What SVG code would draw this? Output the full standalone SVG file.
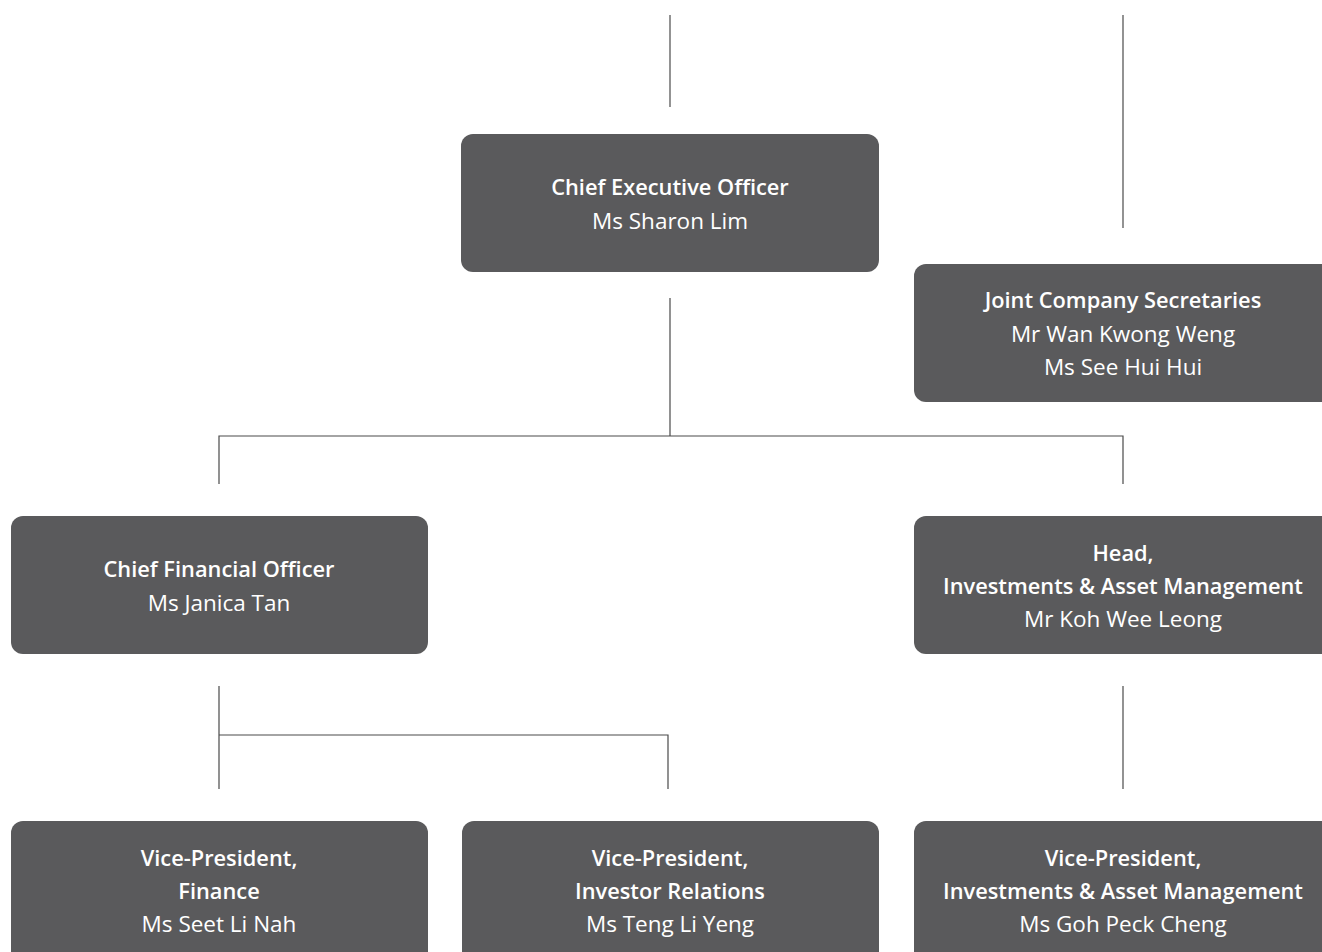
<svg xmlns="http://www.w3.org/2000/svg" width="1322" height="952" viewBox="0 0 1322 952">
<style>
.box{fill:#5a5a5c}
.t{font-family:"Open Sans","Liberation Sans",sans-serif;font-size:22.5px;fill:#ffffff;text-anchor:middle}
.b{font-weight:600;font-size:21.8px}
.c{stroke:#4a4a4a;stroke-width:1.2;fill:none}
</style>
<rect width="1322" height="952" fill="#ffffff"/>
<g id="connectors">
<path class="c" d="M670 15V107"/>
<path class="c" d="M1123 15V228"/>
<path class="c" d="M670 298V436M219 484V436H1123V484"/>
<path class="c" d="M219 686V789M219 735H668V789"/>
<path class="c" d="M1123 686V789"/>
</g>
<g id="ceo">
<rect class="box" x="461" y="134" width="418" height="138" rx="12"/>
<text class="t b" x="670" y="195">Chief Executive Officer</text>
<text class="t" x="670" y="229">Ms Sharon Lim</text>
</g>
<g id="secretaries">
<rect class="box" x="914" y="264" width="420" height="138" rx="12"/>
<text class="t b" x="1123" y="308">Joint Company Secretaries</text>
<text class="t" x="1123" y="342">Mr Wan Kwong Weng</text>
<text class="t" x="1123" y="375">Ms See Hui Hui</text>
</g>
<g id="cfo">
<rect class="box" x="11" y="516" width="417" height="138" rx="12"/>
<text class="t b" x="219" y="577">Chief Financial Officer</text>
<text class="t" x="219" y="611">Ms Janica Tan</text>
</g>
<g id="head-iam">
<rect class="box" x="914" y="516" width="420" height="138" rx="12"/>
<text class="t b" x="1123" y="561">Head,</text>
<text class="t b" x="1123" y="594">Investments &amp; Asset Management</text>
<text class="t" x="1123" y="627">Mr Koh Wee Leong</text>
</g>
<g id="vp-finance">
<rect class="box" x="11" y="821" width="417" height="145" rx="12"/>
<text class="t b" x="219" y="866">Vice-President,</text>
<text class="t b" x="219" y="899">Finance</text>
<text class="t" x="219" y="932">Ms Seet Li Nah</text>
</g>
<g id="vp-ir">
<rect class="box" x="462" y="821" width="417" height="145" rx="12"/>
<text class="t b" x="670" y="866">Vice-President,</text>
<text class="t b" x="670" y="899">Investor Relations</text>
<text class="t" x="670" y="932">Ms Teng Li Yeng</text>
</g>
<g id="vp-iam">
<rect class="box" x="914" y="821" width="420" height="145" rx="12"/>
<text class="t b" x="1123" y="866">Vice-President,</text>
<text class="t b" x="1123" y="899">Investments &amp; Asset Management</text>
<text class="t" x="1123" y="932">Ms Goh Peck Cheng</text>
</g>
</svg>
